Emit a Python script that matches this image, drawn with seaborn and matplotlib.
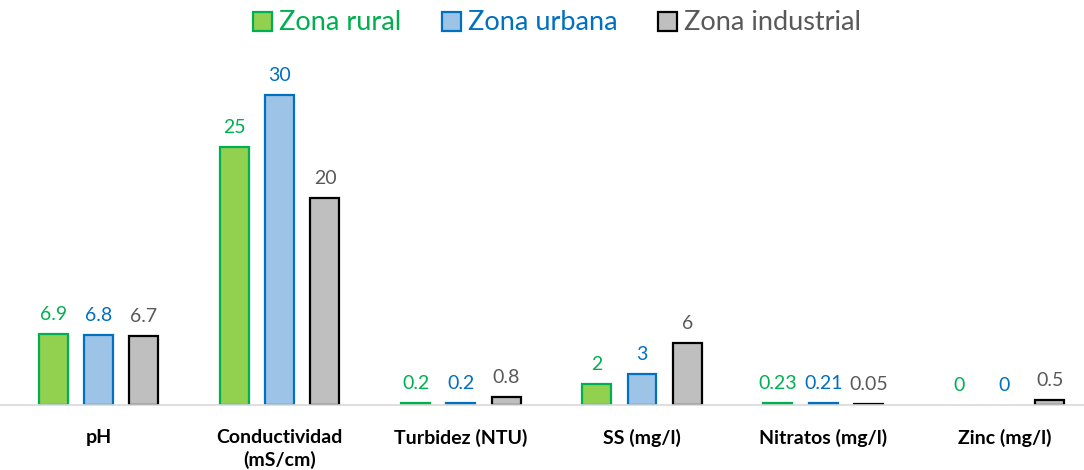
import matplotlib
matplotlib.use("Agg")
import matplotlib.pyplot as plt
import seaborn as sns
import pandas as pd
from matplotlib.patches import Patch

categories = ["pH", "Conductividad\n(mS/cm)", "Turbidez (NTU)", "SS (mg/l)", "Nitratos (mg/l)", "Zinc (mg/l)"]
series = ["Zona rural", "Zona urbana", "Zona industrial"]
rural = [6.9, 25, 0.2, 2, 0.23, 0]
urbana = [6.8, 30, 0.2, 3, 0.21, 0]
industrial = [6.7, 20, 0.8, 6, 0.05, 0.5]

fills = ["#92D050", "#9DC3E6", "#BFBFBF"]
edges = ["#00B050", "#0070C0", "#000000"]
label_colors = ["#00B050", "#0070C0", "#595959"]

rows = []
for s, vals in zip(series, [rural, urbana, industrial]):
    for c, v in zip(categories, vals):
        rows.append({"cat": c, "serie": s, "val": v})
df = pd.DataFrame(rows)

sns.set_theme(style="white")
plt.rcParams["font.family"] = ["Lato", "DejaVu Sans"]

fig = plt.figure(figsize=(10.84, 4.70), dpi=100)
ax = fig.add_axes([0, 65 / 470, 1, (405 - 60) / 470])

sns.barplot(data=df, x="cat", y="val", hue="serie", order=categories, hue_order=series,
            palette=fills, saturation=1, width=0.75, gap=0.36, ax=ax, legend=False, errorbar=None)

for i, cont in enumerate(ax.containers):
    for p in cont:
        p.set_edgecolor(edges[i])
        p.set_linewidth(1.6 if p.get_height() > 0 else 0)
    ax.bar_label(cont, fmt="%g", padding=8, color=label_colors[i], fontsize=14)

ax.set_xlim(-0.544, 5.44)
ax.set_ylim(0, 33.4)
ax.set_yticks([])
ax.set_xlabel("")
ax.set_ylabel("")
for side in ["top", "right", "left"]:
    ax.spines[side].set_visible(False)
ax.spines["bottom"].set_color("#D9D9D9")
ax.spines["bottom"].set_linewidth(1.2)
ax.tick_params(axis="x", length=0, pad=17)
for t in ax.get_xticklabels():
    t.set_fontweight("bold")
    t.set_fontsize(14)
    t.set_color("#000000")
    t.set_linespacing(1.35)
    t.set_verticalalignment("top")

handles = [Patch(facecolor=fills[i], edgecolor=edges[i], linewidth=1.6) for i in range(3)]
leg = fig.legend(handles, series, loc="center", bbox_to_anchor=(557 / 1084, 1 - 23 / 470),
                 ncol=3, frameon=False, fontsize=19.5, handlelength=0.7, handleheight=0.7,
                 handletextpad=0.25, columnspacing=1.5)
for i, txt in enumerate(leg.get_texts()):
    txt.set_color(label_colors[i])

fig.savefig("out.png", dpi=100)
